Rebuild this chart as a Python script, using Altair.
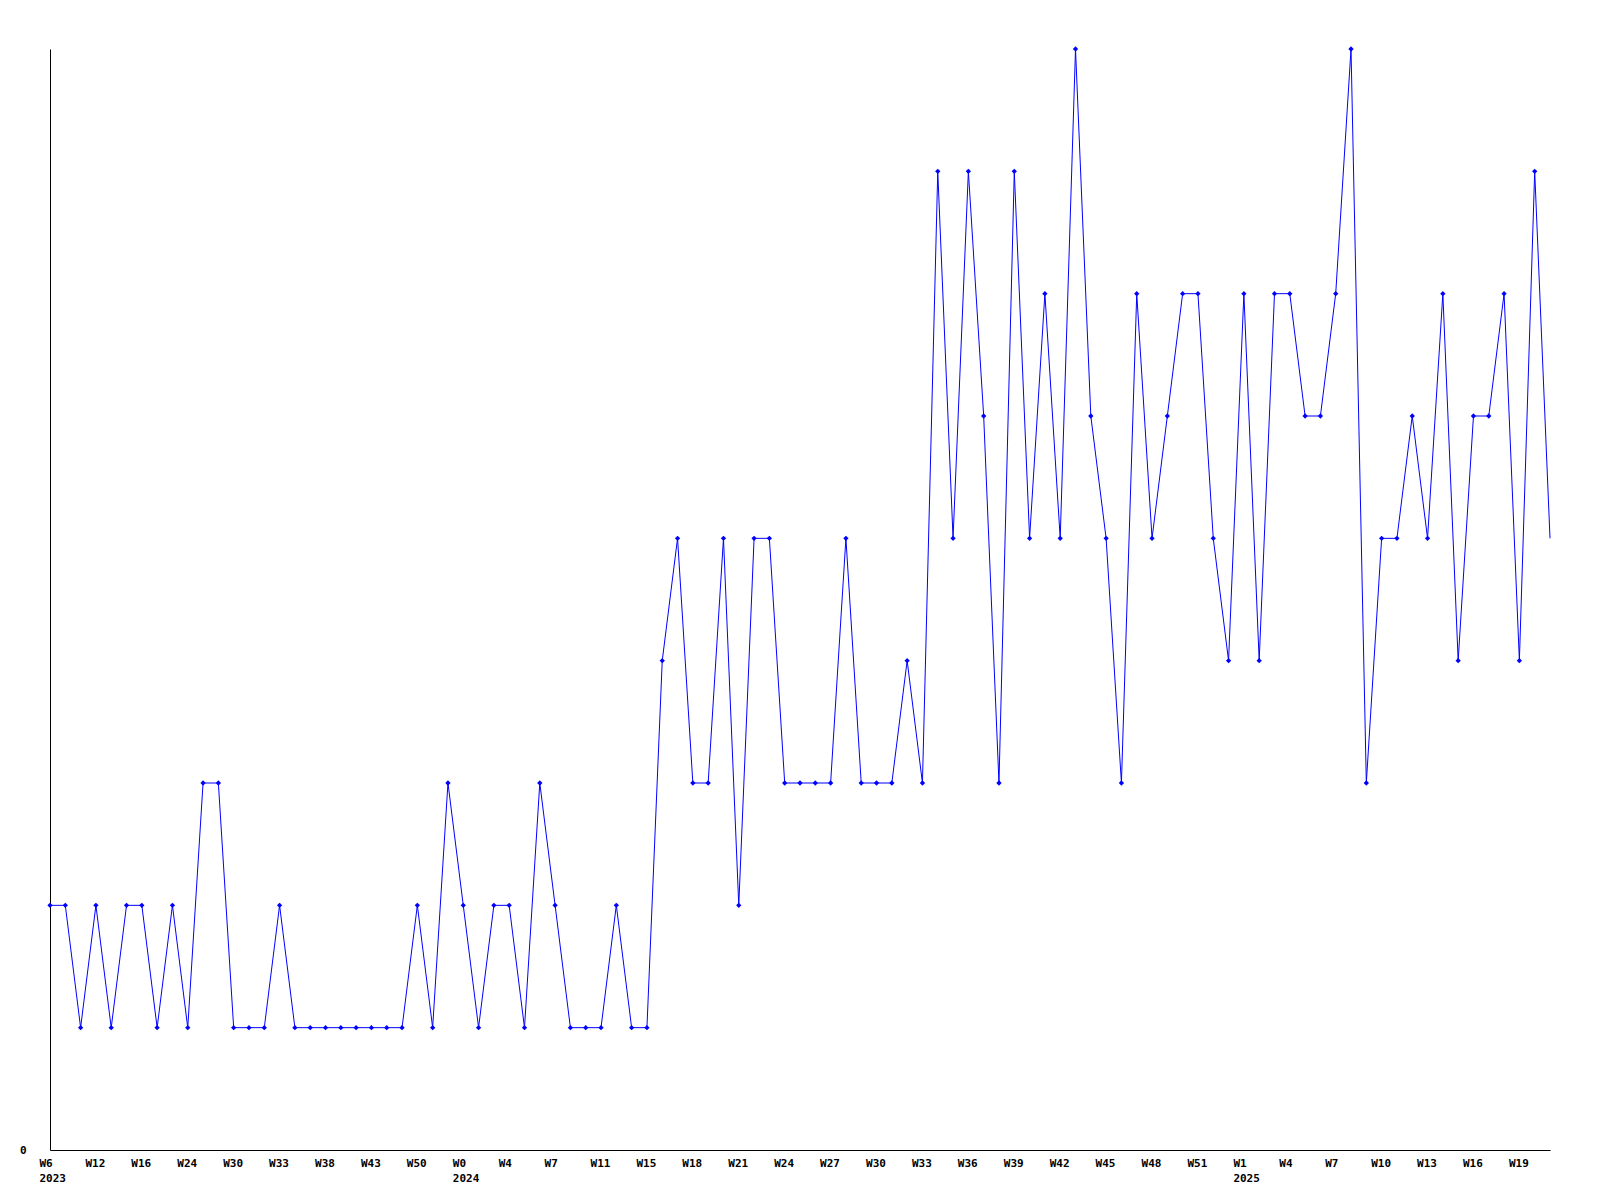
import altair as alt
import pandas as pd

# weekly values (one point per reported week, equally spaced)
values = [
    2, 2, 1, 2, 1, 2, 2, 1, 2, 1,
    3, 3, 1, 1, 1, 2, 1, 1, 1, 1,
    1, 1, 1, 1, 2, 1, 3, 2, 1, 2,
    2, 1, 3, 2, 1, 1, 1, 2, 1, 1,
    4, 5, 3, 3, 5, 2, 5, 5, 3, 3,
    3, 3, 5, 3, 3, 3, 4, 3, 8, 5,
    8, 6, 3, 8, 5, 7, 5, 9, 6, 5,
    3, 7, 5, 6, 7, 7, 5, 4, 7, 4,
    7, 7, 6, 6, 7, 9, 3, 5, 5, 6,
    5, 7, 4, 6, 6, 7, 4, 8, 5,
]

# tick labels, every third point
tick_weeks = [
    "W6", "W12", "W16", "W24", "W30", "W33", "W38", "W43", "W50",
    "W0", "W4", "W7", "W11", "W15", "W18", "W21", "W24", "W27", "W30",
    "W33", "W36", "W39", "W42", "W45", "W48", "W51",
    "W1", "W4", "W7", "W10", "W13", "W16", "W19",
]
tick_years = [
    "2023", "", "", "", "", "", "", "", "",
    "2024", "", "", "", "", "", "", "", "", "",
    "", "", "", "", "", "", "",
    "2025", "", "", "", "", "", "",
]

df = pd.DataFrame({"i": list(range(len(values))), "v": values})
n = len(values)

tick_vals = [k * 3 for k in range(len(tick_weeks))]
parts = []
for w, yv in zip(tick_weeks, tick_years):
    if yv:
        parts.append("['%s','%s']" % (w, yv))
    else:
        parts.append("'%s'" % w)
label_expr = "[" + ",".join(parts) + "][round(datum.value/3)]"

FONT = "DejaVu Sans Mono"

x = alt.X(
    "i:Q",
    scale=alt.Scale(domain=[0, n - 1], nice=False, zero=False),
    axis=alt.Axis(
        values=tick_vals,
        labelExpr=label_expr,
        ticks=False,
        grid=False,
        title=None,
        labelPadding=7,
        labelFont=FONT,
        labelFontSize=11,
        labelFontWeight="bold",
        labelColor="black",
        labelLineHeight=15,
        labelBaseline="top",
        labelAlign="left",
        labelOffset=-11,
        labelFlush=False,
        labelBound=False,
        domainColor="black",
        labelOverlap=False,
    ),
)
y = alt.Y(
    "v:Q",
    scale=alt.Scale(domain=[0, 9], nice=False),
    axis=alt.Axis(
        values=[0],
        ticks=False,
        grid=False,
        title=None,
        labelPadding=24,
        labelFont=FONT,
        labelFontSize=11,
        labelFontWeight="bold",
        labelColor="black",
        labelFlush=False,
        domainColor="black",
    ),
)

line = alt.Chart(df).mark_line(color="#0000ff", strokeWidth=1).encode(x=x, y=y)
pts = (
    alt.Chart(df)
    .transform_filter(alt.datum.i < n - 1)
    .mark_point(shape="diamond", filled=True, color="#0000ff", size=28, opacity=1)
    .encode(x=x, y=y)
)

chart = (
    alt.layer(line, pts)
    .properties(
        width=1500,
        height=1101,
        background="white",
        autosize=alt.AutoSizeParams(type="none"),
        padding={"left": 42, "top": 41, "right": 40, "bottom": 40},
    )
    .configure_view(strokeWidth=0, stroke="transparent")
)

chart.save("out.html", embed_options={"renderer": "svg", "actions": False})
